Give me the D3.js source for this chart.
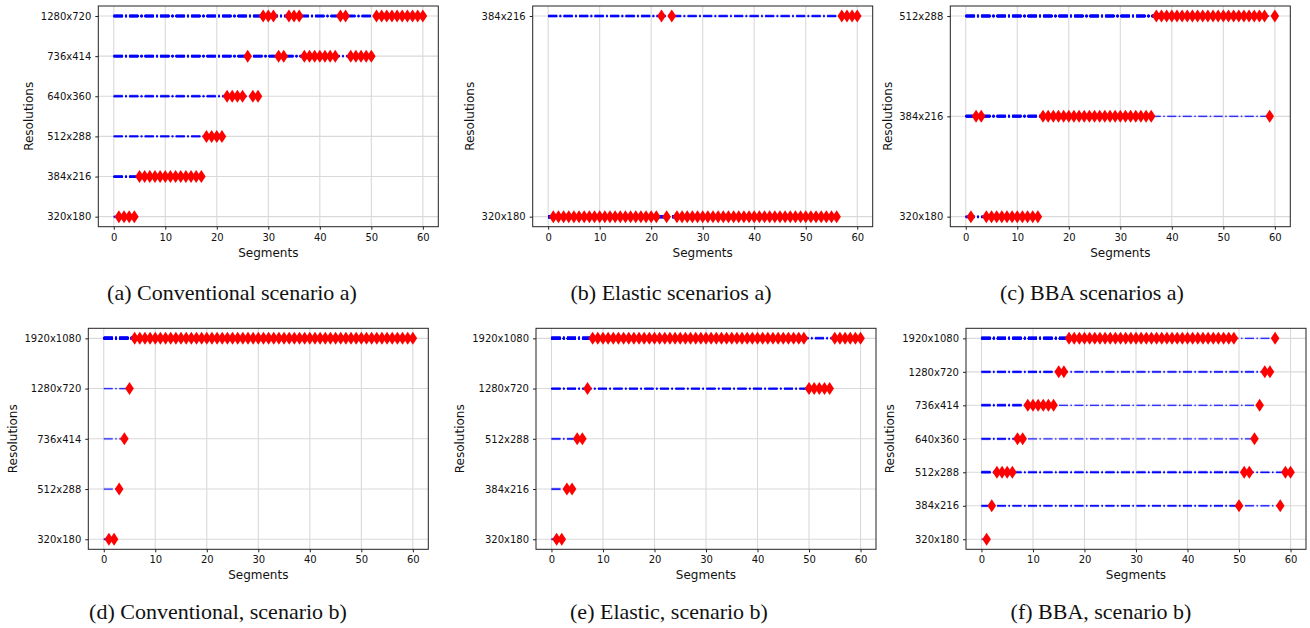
<!DOCTYPE html>
<html>
<head>
<meta charset="utf-8">
<script src="https://cdn.jsdelivr.net/npm/d3@7"></script>
<style>
  body { margin: 0; background: #fff; }
  svg { display: block; }
  .tick text, .lbl { font-family: "DejaVu Sans", sans-serif; fill: #111; }
  .cap { font-family: "Liberation Serif", "Times New Roman", serif; font-size: 22px; fill: #111; }
</style>
</head>
<body>
<div id="chart"></div>
<script>
// resolution levels used in each panel (bottom to top)
var levelsConvA = ["320x180", "384x216", "512x288", "640x360", "736x414", "1280x720"];
var levelsElasA = ["320x180", "384x216"];
var levelsBbaA  = ["320x180", "384x216", "512x288"];
var levelsConvB = ["320x180", "512x288", "736x414", "1280x720", "1920x1080"];
var levelsElasB = ["320x180", "384x216", "512x288", "1280x720", "1920x1080"];
var levelsBbaB  = ["320x180", "384x216", "512x288", "640x360", "736x414", "1280x720", "1920x1080"];

// level index chosen for segments 1..60
var convA = [0,0,0,0,1,1,1,1,1,1, 1,1,1,1,1,1,1,2,2,2, 2,3,3,3,3,4,3,3,5,5,
             5,4,4,5,5,5,4,4,4,4, 4,4,4,5,5,4,4,4,4,4, 5,5,5,5,5,5,5,5,5,5];
var elasA = [0,0,0,0,0,0,0,0,0,0, 0,0,0,0,0,0,0,0,0,0, 0,1,0,1,0,0,0,0,0,0,
             0,0,0,0,0,0,0,0,0,0, 0,0,0,0,0,0,0,0,0,0, 0,0,0,0,0,0,1,1,1,1];
var bbaA  = [0,1,1,0,0,0,0,0,0,0, 0,0,0,0,1,1,1,1,1,1, 1,1,1,1,1,1,1,1,1,1,
             1,1,1,1,1,1,2,2,2,2, 2,2,2,2,2,2,2,2,2,2, 2,2,2,2,2,2,2,2,1,2];
var convB = [0,0,1,2,3,4,4,4,4,4, 4,4,4,4,4,4,4,4,4,4, 4,4,4,4,4,4,4,4,4,4,
             4,4,4,4,4,4,4,4,4,4, 4,4,4,4,4,4,4,4,4,4, 4,4,4,4,4,4,4,4,4,4];
var elasB = [0,0,1,1,2,2,3,4,4,4, 4,4,4,4,4,4,4,4,4,4, 4,4,4,4,4,4,4,4,4,4,
             4,4,4,4,4,4,4,4,4,4, 4,4,4,4,4,4,4,4,4,3, 3,3,3,3,4,4,4,4,4,4];
var bbaB  = [0,1,2,2,2,2,3,3,4,4, 4,4,4,4,5,5,6,6,6,6, 6,6,6,6,6,6,6,6,6,6,
             6,6,6,6,6,6,6,6,6,6, 6,6,6,6,6,6,6,6,6,1, 2,2,3,4,5,5,6,1,2,2];

var xTicks = [0, 10, 20, 30, 40, 50, 60];

var captions = ["(a) Conventional scenario a)", "(b) Elastic scenarios a)", "(c) BBA scenarios a)",
                "(d) Conventional, scenario b)", "(e) Elastic, scenario b)", "(f) BBA, scenario b)"];

var panels = [
  {levels: levelsConvA, seq: convA, left: 98.3,  top: 6,     h: 220.7, capX: 232,  capY: 300},
  {levels: levelsElasA, seq: elasA, left: 532.7, top: 6,     h: 220.7, capX: 671,  capY: 300},
  {levels: levelsBbaA,  seq: bbaA,  left: 950.3, top: 6,     h: 220.7, capX: 1092, capY: 300},
  {levels: levelsConvB, seq: convB, left: 88.3,  top: 328.3, h: 221,   capX: 218,  capY: 619},
  {levels: levelsElasB, seq: elasB, left: 536,   top: 328.3, h: 221,   capX: 669,  capY: 619},
  {levels: levelsBbaB,  seq: bbaB,  left: 966,   top: 328.3, h: 221,   capX: 1101, capY: 619}
];

var W = 340;

var svg = d3.select("#chart").append("svg")
    .attr("width", 1310)
    .attr("height", 628);

var diamond = "M0,-6.5L4.3,0L0,6.5L-4.3,0Z";

panels.forEach(function(p, k) {
  var n = p.levels.length;
  var pad = (n - 1) * 0.05;
  var x = d3.scaleLinear().domain([-3, 63]).range([0, W]);
  var y = d3.scaleLinear().domain([-pad, n - 1 + pad]).range([p.h, 0]);

  var g = svg.append("g").attr("transform", "translate(" + p.left + "," + p.top + ")");

  // grid
  g.append("g").selectAll("line").data(xTicks).join("line")
    .attr("x1", d => x(d)).attr("x2", d => x(d))
    .attr("y1", 0).attr("y2", p.h)
    .attr("stroke", "#d9d9d9").attr("stroke-width", 1.1);
  g.append("g").selectAll("line").data(d3.range(n)).join("line")
    .attr("x1", 0).attr("x2", W)
    .attr("y1", d => y(d)).attr("y2", d => y(d))
    .attr("stroke", "#d9d9d9").attr("stroke-width", 1.1);

  var pts = p.seq.map(function(lv, i) { return {seg: i + 1, lv: lv}; });

  // dash-dot lines, one per segment from 0 to that segment
  ["halo", "core"].forEach(function(kind) {
    g.append("g").selectAll("line").data(pts).join("line")
      .attr("x1", x(0)).attr("x2", d => x(d.seg))
      .attr("y1", d => y(d.lv)).attr("y2", d => y(d.lv))
      .attr("stroke", "#0000ff")
      .attr("stroke-width", kind == "halo" ? 3 : 1.3)
      .attr("stroke-opacity", kind == "halo" ? 0.12 : 0.75)
      .attr("stroke-dasharray", "9,2.5,1.5,2.5");
  });

  // markers
  g.append("g").selectAll("path").data(pts).join("path")
    .attr("d", diamond)
    .attr("transform", d => "translate(" + x(d.seg) + "," + y(d.lv) + ")")
    .attr("fill", "#ff0000");

  // axes
  var xa = g.append("g").attr("transform", "translate(0," + p.h + ")")
    .call(d3.axisBottom(x).tickValues(xTicks).tickSize(3).tickPadding(4));
  var ya = g.append("g")
    .call(d3.axisLeft(y).tickValues(d3.range(n)).tickFormat(i => p.levels[i]).tickSize(3).tickPadding(4));
  [xa, ya].forEach(function(a) {
    a.select(".domain").remove();
    a.selectAll(".tick line").attr("stroke", "#222");
    a.selectAll(".tick text").attr("font-size", "10px").attr("font-family", null);
  });

  // frame
  g.append("rect")
    .attr("width", W).attr("height", p.h)
    .attr("fill", "none").attr("stroke", "#222").attr("stroke-width", 1);

  g.append("text").attr("class", "lbl")
    .attr("x", W / 2).attr("y", p.h + 30)
    .attr("text-anchor", "middle").attr("font-size", "12px")
    .text("Segments");

  var maxW = d3.max(ya.selectAll(".tick text").nodes(), t => t.getComputedTextLength());
  var lx = -maxW - 14.7;
  g.append("text").attr("class", "lbl")
    .attr("transform", "translate(" + lx + "," + (p.h / 2) + ") rotate(-90)")
    .attr("text-anchor", "middle").attr("font-size", "12px")
    .text("Resolutions");

  svg.append("text").attr("class", "cap")
    .attr("x", p.capX).attr("y", p.capY)
    .attr("text-anchor", "middle")
    .text(captions[k]);
});
</script>
</body>
</html>
